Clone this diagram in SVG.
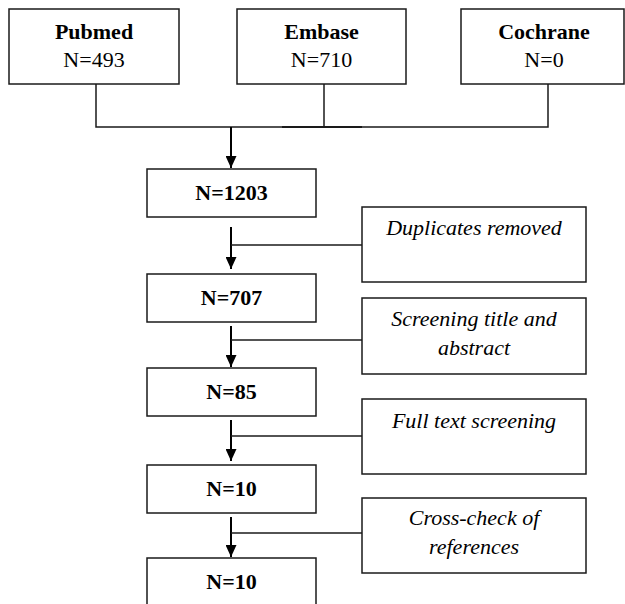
<svg xmlns="http://www.w3.org/2000/svg" width="625" height="604" viewBox="0 0 625 604" font-family="'Liberation Serif', 'DejaVu Serif', 'Times New Roman', serif">
<defs>
<style>
.box{fill:#fff;stroke:#1a1a1a;stroke-width:1.5}
.ln{fill:none;stroke:#1a1a1a;stroke-width:1.5}
.ar{fill:none;stroke:#000;stroke-width:2}
.t{font-family:'Liberation Serif','DejaVu Serif','Times New Roman',serif;font-size:22px;fill:#000;text-anchor:middle}
.b{font-weight:bold}
.i{font-style:italic}
</style>
<marker id="ah" markerWidth="12" markerHeight="11" refX="12" refY="5.5" orient="auto" markerUnits="userSpaceOnUse" viewBox="0 0 12 11">
<path d="M0,0 L12,5.5 L0,11 Z" fill="#000"/>
</marker>
</defs>
<rect width="625" height="604" fill="#fff"/>
<g id="connectors">
<path class="ln" d="M96,84 V127 H548 V84"/>
<path class="ln" d="M324,84 V127"/>
<path d="M282,127 H362" stroke="#1a1a1a" stroke-width="2"/>
<path class="ar" d="M231,127 V168" marker-end="url(#ah)"/>
<path class="ar" d="M231,227 V269" marker-end="url(#ah)"/>
<path class="ar" d="M231,326 V367" marker-end="url(#ah)"/>
<path class="ar" d="M231,420 V461" marker-end="url(#ah)"/>
<path class="ar" d="M231,517 V557" marker-end="url(#ah)"/>
<path class="ln" d="M231,245 H362"/>
<path class="ln" d="M231,340 H362"/>
<path class="ln" d="M231,436 H362"/>
<path class="ln" d="M231,533 H362"/>
</g>
<g id="pubmed">
<rect class="box" x="9" y="9" width="170" height="75"/>
<text class="t b" x="94" y="39">Pubmed</text>
<text class="t" x="94" y="67">N=493</text>
</g>
<g id="embase">
<rect class="box" x="237" y="9" width="169" height="75"/>
<text class="t b" x="321.5" y="39">Embase</text>
<text class="t" x="321.5" y="67">N=710</text>
</g>
<g id="cochrane">
<rect class="box" x="461" y="9" width="163" height="75"/>
<text class="t b" x="544" y="39">Cochrane</text>
<text class="t" x="544" y="67">N=0</text>
</g>
<g id="n1203">
<rect class="box" x="147" y="169" width="169" height="48"/>
<text class="t b" x="231.5" y="200">N=1203</text>
</g>
<g id="duplicates">
<rect class="box" x="362" y="207" width="224" height="75"/>
<text class="t i" x="474" y="235">Duplicates removed</text>
</g>
<g id="n707">
<rect class="box" x="147" y="274" width="169" height="48"/>
<text class="t b" x="231.5" y="305">N=707</text>
</g>
<g id="screening">
<rect class="box" x="362" y="298" width="224" height="76"/>
<text class="t i" x="474" y="326">Screening title and</text>
<text class="t i" x="474" y="355">abstract</text>
</g>
<g id="n85">
<rect class="box" x="147" y="368" width="169" height="48"/>
<text class="t b" x="231.5" y="399">N=85</text>
</g>
<g id="fulltext">
<rect class="box" x="362" y="399" width="224" height="75"/>
<text class="t i" x="474" y="428">Full text screening</text>
</g>
<g id="n10a">
<rect class="box" x="147" y="465" width="169" height="48"/>
<text class="t b" x="231.5" y="496">N=10</text>
</g>
<g id="crosscheck">
<rect class="box" x="362" y="498" width="224" height="75"/>
<text class="t i" x="474" y="525">Cross-check of</text>
<text class="t i" x="474" y="554">references</text>
</g>
<g id="n10b">
<rect class="box" x="147" y="558" width="169" height="60"/>
<text class="t b" x="231.5" y="589">N=10</text>
</g>
</svg>
